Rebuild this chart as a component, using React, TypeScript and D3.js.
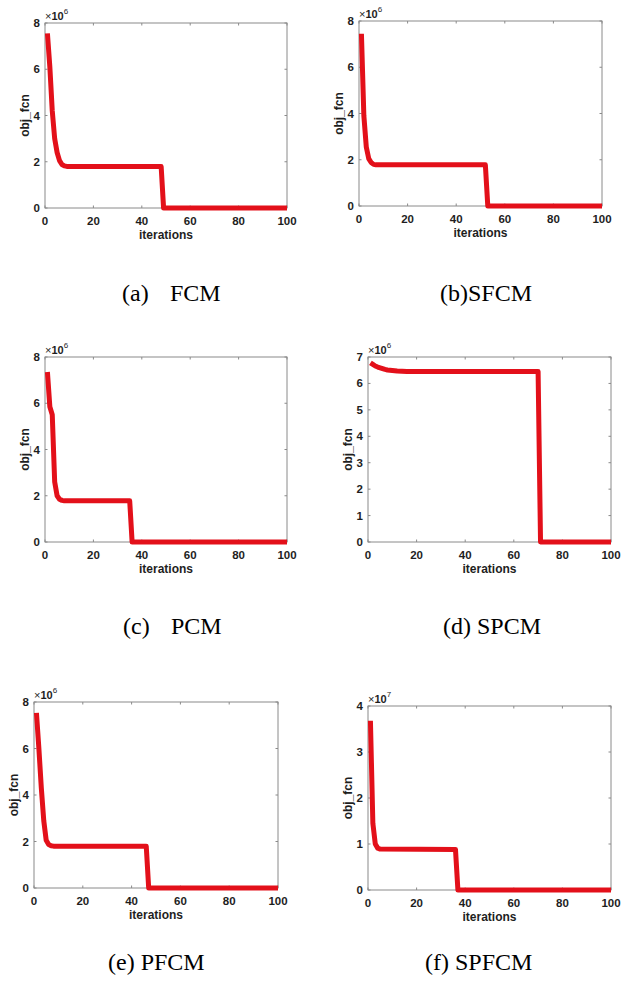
import React from "react";
import * as d3 from "d3";

// ---- data (objective function vs iteration) ----
const iterTicks = [0, 20, 40, 60, 80, 100];

const fcmIter = [1, 2, 3, 4, 5, 6, 7, 8, 9, 48, 49, 100];
const fcmVal = [7.55e6, 6.1e6, 4.2e6, 3.0e6, 2.4e6, 2.05e6, 1.88e6, 1.82e6, 1.8e6, 1.79e6, 0, 0];

const sfcmIter = [1, 2, 3, 4, 5, 6, 7, 52, 53, 100];
const sfcmVal = [7.45e6, 3.9e6, 2.55e6, 2.05e6, 1.88e6, 1.8e6, 1.78e6, 1.78e6, 0, 0];

const pcmIter = [1, 2, 3, 4, 5, 6, 7, 8, 35, 36, 100];
const pcmVal = [7.35e6, 5.85e6, 5.5e6, 2.6e6, 2.0e6, 1.85e6, 1.8e6, 1.78e6, 1.78e6, 0, 0];

const spcmIter = [1, 2, 3, 4, 5, 6, 7, 8, 9, 10, 12, 14, 16, 70, 71, 100];
const spcmVal = [6.78e6, 6.72e6, 6.66e6, 6.62e6, 6.59e6, 6.56e6, 6.53e6, 6.51e6, 6.5e6, 6.49e6, 6.47e6, 6.46e6, 6.45e6, 6.45e6, 0, 0];

const pfcmIter = [1, 2, 3, 4, 5, 6, 7, 8, 46, 47, 100];
const pfcmVal = [7.53e6, 6.0e6, 4.3e6, 2.9e6, 2.05e6, 1.87e6, 1.82e6, 1.8e6, 1.8e6, 0, 0];

const spfcmIter = [1, 2, 3, 4, 5, 36, 37, 100];
const spfcmVal = [3.68e7, 1.45e7, 1.0e7, 0.91e7, 0.89e7, 0.88e7, 0, 0];

const ticks8 = [0, 2e6, 4e6, 6e6, 8e6];
const ticks7 = [0, 1e6, 2e6, 3e6, 4e6, 5e6, 6e6, 7e6];
const ticks4 = [0, 1e7, 2e7, 3e7, 4e7];

const captions = ["(a)", "FCM", "(b)SFCM", "(c)", "PCM", "(d) SPCM", "(e) PFCM", "(f) SPFCM"];

const SANS = "'Liberation Sans', Arial, sans-serif";
const SERIF = "'Liberation Serif', 'Times New Roman', serif";
const RED = "#e3101a";
const AXIS = "#8a8a8a";
const TXT = "#1e1e1e";

type PanelProps = {
  left: number; right: number; top: number; bottom: number;
  xs: number[]; ys: number[]; yMax: number; yTicks: number[]; expo: number;
};

function Panel({ left, right, top, bottom, xs, ys, yMax, yTicks, expo }: PanelProps) {
  const x = d3.scaleLinear().domain([0, 100]).range([left, right]);
  const y = d3.scaleLinear().domain([0, yMax]).range([bottom, top]);
  const div = Math.pow(10, expo);
  const pts: [number, number][] = xs.map((v, i) => [v, ys[i]]);
  const line = d3.line<[number, number]>().x(d => x(d[0])).y(d => y(d[1]));
  const tl = 2.5;
  const cx = (left + right) / 2;
  const cy = (top + bottom) / 2;
  return (
    <g>
      <rect x={left} y={top} width={right - left} height={bottom - top} fill="#fff" stroke={AXIS} strokeWidth={1} />
      {iterTicks.map(t => (
        <g key={"x" + t}>
          <line x1={x(t)} x2={x(t)} y1={bottom} y2={bottom - tl} stroke={AXIS} />
          <line x1={x(t)} x2={x(t)} y1={top} y2={top + tl} stroke={AXIS} />
          <text x={x(t)} y={bottom + 13} textAnchor="middle" dominantBaseline="central"
            fontFamily={SANS} fontWeight="bold" fontSize={11.5} fill={TXT}>{t}</text>
        </g>
      ))}
      {yTicks.map(t => (
        <g key={"y" + t}>
          <line x1={left} x2={left + tl} y1={y(t)} y2={y(t)} stroke={AXIS} />
          <line x1={right} x2={right - tl} y1={y(t)} y2={y(t)} stroke={AXIS} />
          <text x={left - 5} y={y(t)} textAnchor="end" dominantBaseline="central"
            fontFamily={SANS} fontWeight="bold" fontSize={11.5} fill={TXT}>{Math.round(t / div)}</text>
        </g>
      ))}
      <path d={line(pts) || ""} fill="none" stroke={RED} strokeWidth={5} strokeLinejoin="round" />
      <text x={left} y={top - 3} fontFamily={SANS} fontSize={11} fill={TXT}>
        <tspan>×</tspan><tspan fontWeight="bold">10</tspan>
        <tspan fontSize={8} dy={-6}>{expo}</tspan>
      </text>
      <text x={cx} y={bottom + 27} textAnchor="middle" dominantBaseline="central"
        fontFamily={SANS} fontWeight="bold" fontSize={12} fill={TXT}>iterations</text>
      <text transform={`translate(${left - 20},${cy}) rotate(-90)`} textAnchor="middle" dominantBaseline="central"
        fontFamily={SANS} fontWeight="bold" fontSize={12} fill={TXT}>obj_fcn</text>
    </g>
  );
}

export default function App() {
  const cap = { fontFamily: SERIF, fontSize: 24, fill: "#000", dominantBaseline: "central" as const };
  return (
    <svg width={621} height={990} style={{ position: "absolute", left: 0, top: 0, background: "#fff" }}>
      <rect width={621} height={990} fill="#fff" />
      <Panel left={45} right={287} top={23} bottom={208} xs={fcmIter} ys={fcmVal} yMax={8e6} yTicks={ticks8} expo={6} />
      <Panel left={359} right={602} top={21} bottom={206} xs={sfcmIter} ys={sfcmVal} yMax={8e6} yTicks={ticks8} expo={6} />
      <Panel left={45} right={287} top={357} bottom={542} xs={pcmIter} ys={pcmVal} yMax={8e6} yTicks={ticks8} expo={6} />
      <Panel left={368} right={611} top={357} bottom={542} xs={spcmIter} ys={spcmVal} yMax={7e6} yTicks={ticks7} expo={6} />
      <Panel left={34} right={278} top={702} bottom={888} xs={pfcmIter} ys={pfcmVal} yMax={8e6} yTicks={ticks8} expo={6} />
      <Panel left={368} right={611} top={706} bottom={890} xs={spfcmIter} ys={spfcmVal} yMax={4e7} yTicks={ticks4} expo={7} />

      <text x={122} y={293} {...cap}>{captions[0]}</text>
      <text x={170} y={293} {...cap}>{captions[1]}</text>
      <text x={440} y={293} {...cap}>{captions[2]}</text>
      <text x={123} y={626} {...cap}>{captions[3]}</text>
      <text x={171} y={626} {...cap}>{captions[4]}</text>
      <text x={443} y={626} {...cap}>{captions[5]}</text>
      <text x={108} y={962} {...cap}>{captions[6]}</text>
      <text x={425} y={962} {...cap}>{captions[7]}</text>
    </svg>
  );
}
